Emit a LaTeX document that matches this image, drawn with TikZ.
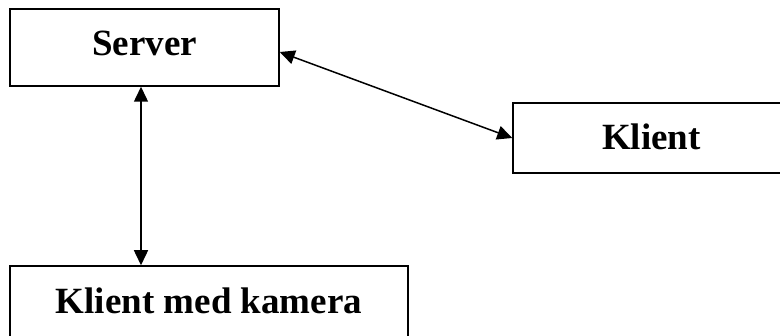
\documentclass[tikz,border=0pt]{standalone}
\usepackage{fontspec}
\setmainfont{Liberation Serif}
\usetikzlibrary{arrows.meta}
\begin{document}
\begin{tikzpicture}[x=1pt,y=-1pt,
  box/.style={draw=black, line width=1.5pt, inner sep=0pt, font=\fontsize{37}{40}\selectfont\bfseries},
  arr/.style={line width=1.5pt, {Triangle[length=15pt,width=14pt]}-{Triangle[length=15pt,width=14pt]}}]
\useasboundingbox (0,0) rectangle (780,336);
\clip (0,0) rectangle (780,336);
\node[box, minimum width=269pt, minimum height=77pt, text height=26pt, text depth=9pt] (server) at (144.5,47.5) {Server};
\node[box, minimum width=277pt, minimum height=70pt, text height=26pt, text depth=2pt] (klient) at (651.5,138) {Klient};
\node[box, minimum width=398pt, minimum height=79pt, text height=26pt, text depth=9pt] (kamera) at (209,305.5) {Klient med kamera};
\draw[arr] ([yshift=-4.5pt]server.east) -- (klient.west);
\draw[arr] ([xshift=-3.5pt]server.south) -- ([xshift=-3.5pt]server.south |- kamera.north);
\end{tikzpicture}
\end{document}
